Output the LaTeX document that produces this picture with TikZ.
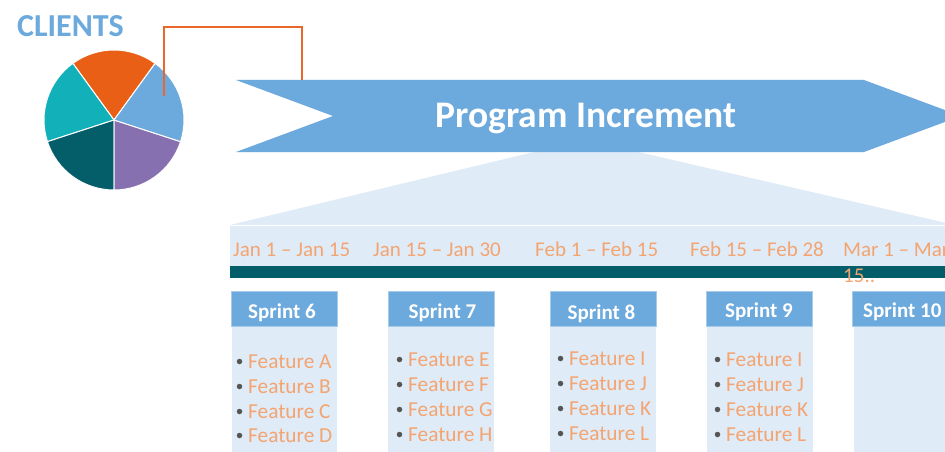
\documentclass[tikz,border=0pt]{standalone}
\usepackage{fontspec}
\setmainfont{Carlito}
\definecolor{bannerblue}{HTML}{6CA9DD}
\definecolor{panelblue}{HTML}{DFEBF7}
\definecolor{darkteal}{HTML}{035E6A}
\definecolor{softorange}{HTML}{F4A470}
\definecolor{pieorange}{HTML}{EA5F16}
\definecolor{pieteal}{HTML}{12B1BA}
\definecolor{piepurple}{HTML}{8770B0}
\definecolor{linkorange}{HTML}{E9672A}
\definecolor{bulletgray}{HTML}{555555}
\definecolor{sprintedge}{HTML}{A9CBEA}
\tikzset{
  slice/.style={draw=white, line width=1pt},
  sprintbox/.style={fill=bannerblue, draw=sprintedge, line width=0.6pt, minimum width=106pt, minimum height=35pt, inner sep=0pt},
  sprinttext/.style={anchor=base, inner sep=0pt, text=white, font=\fontsize{21}{25}\selectfont\bfseries},
  datetext/.style={anchor=base west, inner sep=0pt, text=softorange, font=\fontsize{21}{25}\selectfont},
  feattext/.style={anchor=base west, inner sep=0pt, text=softorange, font=\fontsize{21.3}{25}\selectfont},
  featdot/.style={circle, fill=bulletgray, inner sep=0pt, minimum size=5.5pt},
}
\newcommand{\featitem}[4]{%
  \node[featdot] (#4d) at (#1-8.5,#2-6.5) {};
  \node[feattext] (#4) at (#1,#2) {#3};
}
\begin{document}
\begin{tikzpicture}[x=1pt,y=-1pt]
\useasboundingbox (0,0) rectangle (945,452);
\clip (0,0) rectangle (945,452);
\fill[white] (0,0) rectangle (945,452);

% Clients title
\node[anchor=base west, inner sep=0pt, text=bannerblue, font=\fontsize{32}{36}\selectfont\bfseries] (clients) at (17,37) {CLIENTS};

% Pie
\coordinate (pc) at (114,120);
\fill[pieorange,slice] (pc) -- ++(-54:70) arc[start angle=-54, end angle=-126, radius=70] -- cycle;
\fill[pieteal,slice] (pc) -- ++(-126:70) arc[start angle=-126, end angle=-198, radius=70] -- cycle;
\fill[darkteal,slice] (pc) -- ++(-198:70) arc[start angle=-198, end angle=-270, radius=70] -- cycle;
\fill[piepurple,slice] (pc) -- ++(-270:70) arc[start angle=-270, end angle=-342, radius=70] -- cycle;
\fill[bannerblue,slice] (pc) -- ++(-342:70) arc[start angle=-342, end angle=-414, radius=70] -- cycle;

% trapezoid panel
\fill[panelblue] (534,152) -- (638,152) -- (955,225) -- (230,225) -- cycle;
\fill[panelblue] (230,226) rectangle (945,266);
\draw[white, line width=1pt] (230,225.5) -- (945,225.5);
\fill[darkteal] (230,266) rectangle (945,278);

% Banner
\fill[bannerblue] (236,80) -- (864,80) -- (961,116) -- (864,152) -- (236,152) -- (333,116) -- cycle;
\coordinate (bannertop) at (302,80);
\node[anchor=base, inner sep=0pt, text=white, font=\fontsize{37.5}{42}\selectfont\bfseries] (pi) at (586,127) {Program Increment};

% connector
\coordinate (piestart) at (164,96);
\draw[linkorange, line width=1.3pt] (piestart) |- (302,27) -- (bannertop);

% dates
\node[datetext] (d1) at (233,256) {Jan 1 – Jan 15};
\node[datetext] (d2) at (373,256) {Jan 15 – Jan 30};
\node[datetext] (d3) at (535,256) {Feb 1 – Feb 15};
\node[datetext] (d4) at (690,256) {Feb 15 – Feb 28};
\node[datetext] (d5) at (843,256) {Mar 1 – Mar};
\node[datetext] (d5b) at (843,282) {15..};

% column panels
\fill[panelblue] (232,325) rectangle (337,452);
\fill[panelblue] (388,326) rectangle (494,452);
\fill[panelblue] (550,326) rectangle (656,452);
\fill[panelblue] (707,326) rectangle (813,452);
\fill[panelblue] (854,325) rectangle (950,452);

% sprint headers
\node[sprintbox] (s6) at (284.5,308.5) {};
\node[sprintbox] (s7) at (441,308.5) {};
\node[sprintbox] (s8) at (603,309) {};
\node[sprintbox] (s9) at (759.5,308.5) {};
\node[sprintbox] (s10) at (905,308.5) {};
\node[sprinttext] (t6) at (282,318) {Sprint 6};
\node[sprinttext] (t7) at (442.5,318) {Sprint 7};
\node[sprinttext] (t8) at (601.5,319) {Sprint 8};
\node[sprinttext] (t9) at (759,317.5) {Sprint 9};
\node[sprinttext, anchor=base west] (t10) at (863,317.5) {Sprint 10};

% features
\featitem{248}{368}{Feature A}{fa}
\featitem{248}{393}{Feature B}{fb}
\featitem{248}{418}{Feature C}{fc}
\featitem{248}{442}{Feature D}{fd}
\featitem{408}{366}{Feature E}{fe}
\featitem{408}{391}{Feature F}{ff}
\featitem{408}{416}{Feature G}{fg}
\featitem{408}{441}{Feature H}{fh}
\featitem{569}{365}{Feature I}{fi}
\featitem{569}{390}{Feature J}{fj}
\featitem{569}{415}{Feature K}{fk}
\featitem{569}{440}{Feature L}{fl}
\featitem{726}{366}{Feature I}{gi}
\featitem{726}{391}{Feature J}{gj}
\featitem{726}{416}{Feature K}{gk}
\featitem{726}{441}{Feature L}{gl}
\end{tikzpicture}
\end{document}
